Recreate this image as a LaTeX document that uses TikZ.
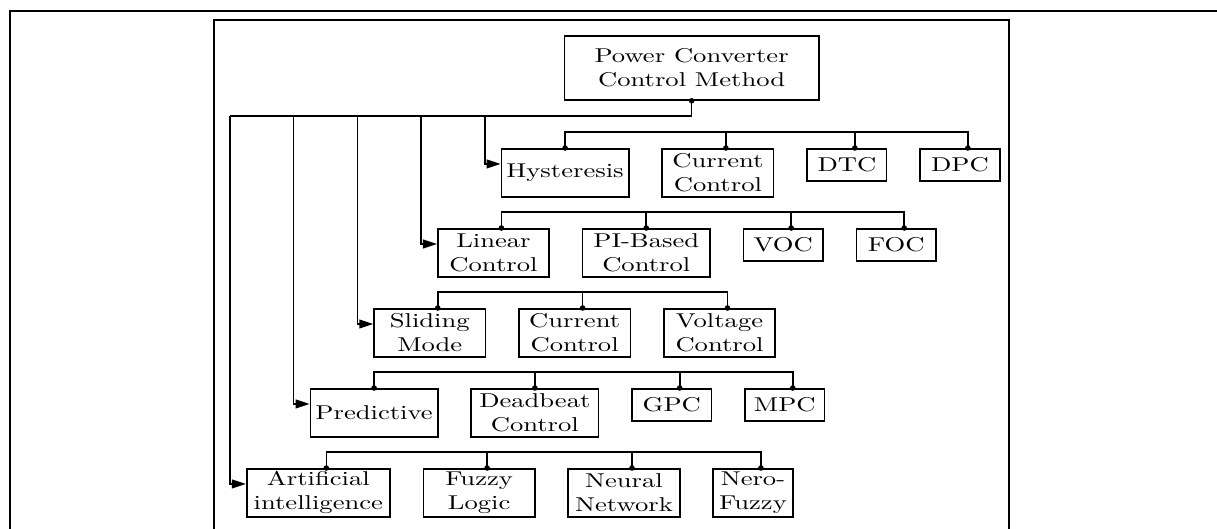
\documentclass[tikz,border=0pt]{standalone}
\usepackage{fontspec}
\setmainfont{Latin Modern Roman}[FakeStretch=1.33]
\usetikzlibrary{positioning,arrows.meta}

\begin{document}
\begin{tikzpicture}[
  x=7.96pt, y=8pt,
  node distance=15.92pt,
  box/.style={rectangle,draw,line width=0.8pt,inner sep=1pt,align=center,minimum height=24pt,minimum width=#1*7.96pt},
  box/.default=7,
  low/.style={minimum height=16pt},
  nxt/.style={right=of #1.north east,anchor=north west},
  link/.style={line width=0.8pt},
  arr/.style={-{Triangle[length=7pt,width=4.4pt]},line width=0.8pt},
  dx/.style={xshift=3.98pt},
  frame/.style={line width=1.2pt},
  panel/.style={line width=0.8pt}]
\useasboundingbox (-14.447,-25.8125) rectangle (62,7.25);
\draw[frame] (-13.82,-25.8125) |- (62,6.5625);
\draw[panel] (-1,-25.8125) |- (48.93,6) -- (48.93,-25.8125);

\node[box=16,minimum height=32pt] (root) at (29,3) {Power Converter\\Control Method};

\node[box=8,anchor=north west] (hys) at (17,-2) {Hysteresis};
\node[box=7,nxt=hys] (cc1) {Current\\Control};
\node[box=5,low,nxt=cc1] (dtc) {DTC};
\node[box=5,low,nxt=dtc] (dpc) {DPC};

\node[box=7,anchor=north west] (lin) at (13,-7) {Linear\\Control};
\node[box=8,nxt=lin] (pib) {PI-Based\\Control};
\node[box=5,low,nxt=pib] (voc) {VOC};
\node[box=5,low,nxt=voc] (foc) {FOC};

\node[box=7,anchor=north west] (smc) at (9,-12) {Sliding\\Mode};
\node[box=7,nxt=smc] (cc2) {Current\\Control};
\node[box=7,nxt=cc2] (vc) {Voltage\\Control};

\node[box=8,anchor=north west] (pred) at (5,-17) {Predictive};
\node[box=8,nxt=pred] (db) {Deadbeat\\Control};
\node[box=5,low,nxt=db] (gpc) {GPC};
\node[box=5,low,nxt=gpc] (mpc) {MPC};

\node[box=9,anchor=north west] (ai) at (1,-22) {Artificial\\intelligence};
\node[box=7,nxt=ai] (fl) {Fuzzy\\Logic};
\node[box=7,nxt=fl] (nn) {Neural\\Network};
\node[box=5,nxt=nn] (nf) {Nero-\\Fuzzy};

\coordinate (t) at (0,0);
\draw[link] (root.south) |- (t);
\foreach \k/\n in {0/ai,4/pred,8/smc,12/lin,16/hys}
  \draw[arr] (\k,0) coordinate (tap-\n) |- ([yshift=-8pt]\n.north west);

\draw[link] (hys.north) -- ++(0,1) -| ([dx]dpc.north);
\draw[link] ([dx]lin.north) -- ++(0,1) -| ([dx]foc.north);
\draw[link] ([dx]smc.north) -- ++(0,1) -| ([dx]vc.north);
\draw[link] (pred.north) -- ++(0,1) -| ([dx]mpc.north);
\draw[link] ([dx]ai.north) -- ++(0,1) -| ([dx]nf.north);
\foreach \n in {cc1,dtc,voc,cc2,gpc,fl,nn}
  \draw[link] ([dx]\n.north) -- ++(0,1);
\draw[link] (pib.north) -- ++(0,1);
\draw[link] (db.north) -- ++(0,1);

\foreach \n in {root.south,hys.north,pib.north,pred.north,db.north}
  \fill (\n) circle (1.4pt);
\foreach \n in {cc1,dtc,dpc,lin,voc,foc,smc,cc2,vc,gpc,mpc,ai,fl,nn,nf}
  \fill ([dx]\n.north) circle (1.4pt);
\end{tikzpicture}
\end{document}
